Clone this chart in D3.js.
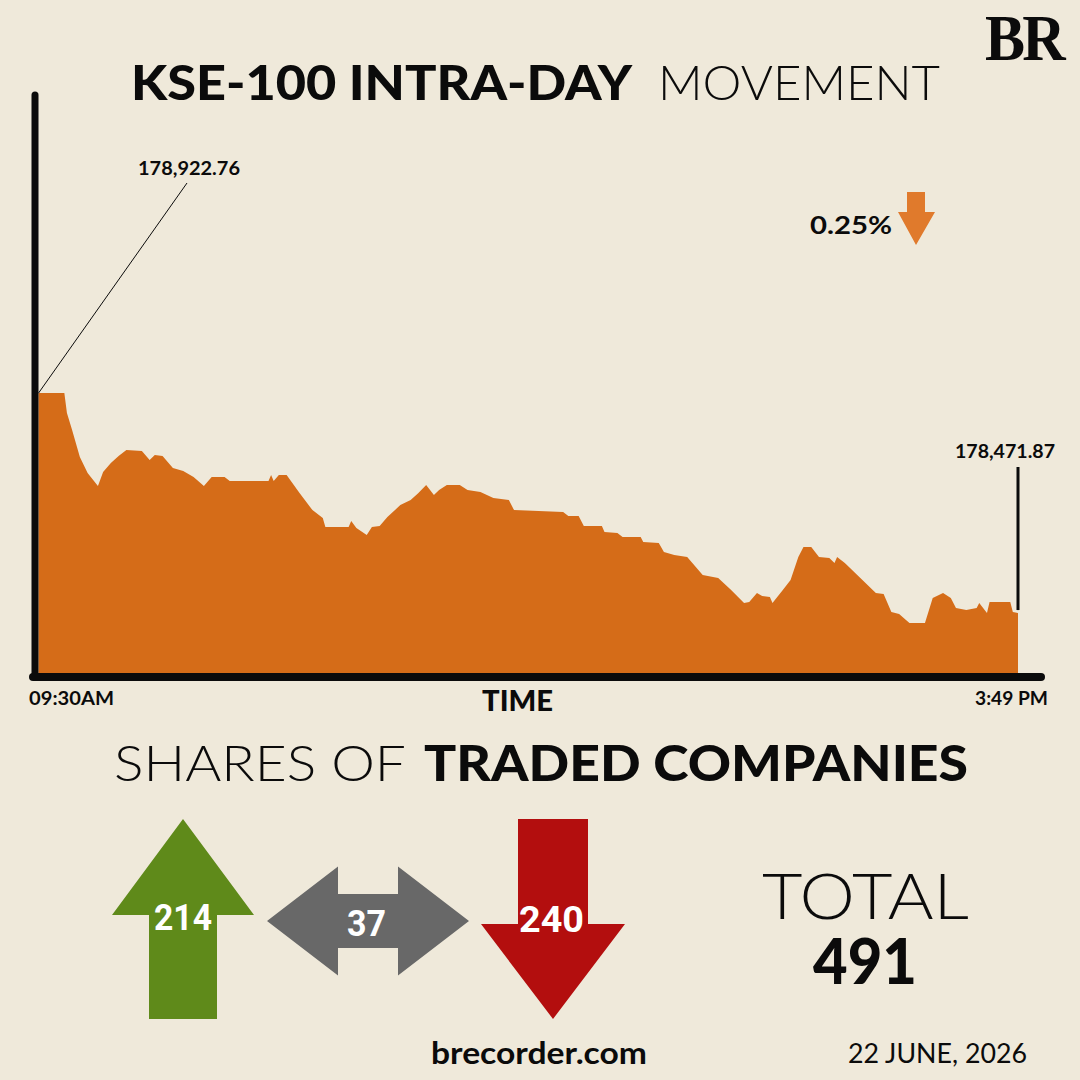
<!DOCTYPE html>
<html>
<head>
<meta charset="utf-8">
<script src="https://cdn.jsdelivr.net/npm/d3@7"></script>
<style>
  html, body { margin: 0; padding: 0; background: #EFE9DA; }
  svg { display: block; }
</style>
</head>
<body>
<div id="chart"></div>
<script>
// KSE-100 intraday readings (time, index level)
var times = ["09:30","09:40","09:41","09:43","09:46","09:49","09:53","09:55","09:58","10:01",
  "10:04","10:10","10:13","10:15","10:18","10:22","10:26","10:30","10:34","10:37",
  "10:42","10:44","10:59","11:00","11:01","11:03","11:06","11:11","11:16","11:20",
  "11:21","11:30","11:31","11:33","11:37","11:39","11:42","11:45","11:50","11:54",
  "11:57","12:00","12:03","12:05","12:08","12:13","12:16","12:21","12:26","12:32",
  "12:34","12:53","12:55","12:59","13:01","13:08","13:09","13:14","13:16","13:23",
  "13:24","13:30","13:32","13:36","13:41","13:47","13:53","13:58","14:03","14:05",
  "14:08","14:10","14:13","14:14","14:18","14:21","14:24","14:26","14:29","14:32",
  "14:36","14:38","14:39","14:42","14:48","14:54","14:57","15:00","15:03","15:07",
  "15:13","15:16","15:20","15:23","15:25","15:29","15:33","15:34","15:37","15:38",
  "15:46","15:47","15:49"];
var values = [178922.76,178922.8,178881.8,178846.9,178791.6,178758.8,178732.1,178760.8,178779.3,178793.6,
  178805.9,178803.9,178785.4,178795.7,178793.6,178769.0,178762.9,178750.6,178732.1,178750.6,
  178750.6,178742.4,178742.4,178754.7,178742.4,178754.7,178754.7,178717.8,178682.9,178666.5,
  178648.1,178648.1,178660.4,178646.0,178631.7,178648.1,178650.1,178668.6,178693.2,178703.4,
  178717.8,178734.2,178713.7,178723.9,178734.2,178734.2,178723.9,178719.8,178707.5,178703.4,
  178682.9,178678.8,178670.6,178670.6,178650.1,178650.1,178637.8,178635.8,178627.6,178627.6,
  178617.3,178615.3,178596.8,178590.7,178586.6,178549.7,178543.5,178518.9,178492.3,178494.3,
  178512.8,178506.6,178504.6,178492.3,178518.9,178539.4,178586.6,178607.1,178607.1,178586.6,
  178584.5,178574.3,178586.6,178574.3,178543.5,178512.8,178510.8,178473.8,178469.7,178451.3,
  178451.3,178502.5,178512.8,178502.5,178482.0,178478.0,178482.0,178492.3,178471.9,178494.3,
  178494.3,178473.8,178471.87];
var yDomain = [178349, 179540];
var openLabel = "178,922.76";
var closeLabel = "178,471.87";
var changeLabel = "0.25%";
var startLabel = "09:30AM", endLabel = "3:49 PM";

// market breadth
var breadthCounts = [214, 37, 240];
var breadthColors = ["#5F8A1A", "#686868", "#B30E0E"];
var totalCount = 491;
var dateLabel = "22 JUNE, 2026";

var W = 1080, H = 1080;
var colors = {
  bg: "#EFE9DA",
  area: "#D56C18",
  down: "#E07A2C",
  ink: "#0B0B0B"
};
var wideFont = "Lato, 'Open Sans', sans-serif";
var narrowFont = "Roboto, 'DejaVu Sans', sans-serif";

var svg = d3.select("#chart").append("svg")
  .attr("width", W).attr("height", H)
  .style("background", colors.bg);

// text squeezed or stretched to a fixed width
function fitText(parent, str, px, py, anchor, family, weight, size, width) {
  return parent.append("text")
    .attr("x", px).attr("y", py)
    .attr("text-anchor", anchor)
    .attr("font-family", family)
    .attr("font-weight", weight)
    .attr("font-size", size)
    .attr("textLength", width)
    .attr("lengthAdjust", "spacingAndGlyphs")
    .attr("fill", colors.ink)
    .text(str);
}

var parse = d3.timeParse("%H:%M");
var data = times.map(function (t, i) { return { t: parse(t), v: values[i] }; });

var x = d3.scaleTime()
  .domain(d3.extent(data, function (d) { return d.t; }))
  .range([38.5, 1018]);
var y = d3.scaleLinear().domain(yDomain).range([673, 92]);

// area
var area = d3.area()
  .x(function (d) { return x(d.t); })
  .y0(y(yDomain[0]))
  .y1(function (d) { return y(d.v); });
svg.append("path")
  .datum(data)
  .attr("d", area)
  .attr("fill", colors.area);

// axes lines
svg.append("line")
  .attr("x1", 35).attr("x2", 35)
  .attr("y1", 95).attr("y2", 677)
  .attr("stroke", colors.ink).attr("stroke-width", 7)
  .attr("stroke-linecap", "round");
svg.append("line")
  .attr("x1", 33).attr("x2", 1041)
  .attr("y1", 677).attr("y2", 677)
  .attr("stroke", colors.ink).attr("stroke-width", 8)
  .attr("stroke-linecap", "round");

// title
fitText(svg, "KSE-100 INTRA-DAY", 131, 100, "start", wideFont, 900, 48, 501);
fitText(svg, "MOVEMENT", 658, 100, "start", wideFont, 300, 48, 282);

// BR logo
fitText(svg, "BR", 985, 60, "start", "'Liberation Serif', 'DejaVu Serif', serif", 700, 66, 78)
  .attr("letter-spacing", -3);

// open annotation
var first = data[0], last = data[data.length - 1];
svg.append("line")
  .attr("x1", 187).attr("y1", 183)
  .attr("x2", x(first.t)).attr("y2", y(first.v))
  .attr("stroke", colors.ink).attr("stroke-width", 1);
fitText(svg, openLabel, 138, 175, "start", wideFont, 700, 18, 102);

// close annotation
svg.append("line")
  .attr("x1", x(last.t)).attr("x2", x(last.t))
  .attr("y1", 467).attr("y2", y(last.v) - 3)
  .attr("stroke", colors.ink).attr("stroke-width", 3);
fitText(svg, closeLabel, 955, 458, "start", wideFont, 700, 19, 100);

// change %
fitText(svg, changeLabel, 810, 234, "start", wideFont, 700, 25, 82);
svg.append("path")
  .attr("d", "M907,192 L925,192 L925,212 L935,212 L916,245 L898,212 L907,212 Z")
  .attr("fill", colors.down);

// x labels
fitText(svg, startLabel, 29, 705, "start", wideFont, 700, 18, 85);
fitText(svg, endLabel, 975, 705, "start", wideFont, 700, 18, 73);
fitText(svg, "TIME", 482, 711, "start", wideFont, 900, 28, 71);

// section heading
fitText(svg, "SHARES OF", 114, 781, "start", wideFont, 300, 50, 292);
fitText(svg, "TRADED COMPANIES", 424, 781, "start", wideFont, 900, 50, 544);

// breadth arrows
function upArrow(cx, top, bottom, headW, headH, shaftW) {
  return "M" + cx + "," + top +
    "L" + (cx + headW / 2) + "," + (top + headH) +
    "L" + (cx + shaftW / 2) + "," + (top + headH) +
    "L" + (cx + shaftW / 2) + "," + bottom +
    "L" + (cx - shaftW / 2) + "," + bottom +
    "L" + (cx - shaftW / 2) + "," + (top + headH) +
    "L" + (cx - headW / 2) + "," + (top + headH) + "Z";
}
function downArrow(cx, top, bottom, headW, headH, shaftW) {
  return "M" + (cx - shaftW / 2) + "," + top +
    "L" + (cx + shaftW / 2) + "," + top +
    "L" + (cx + shaftW / 2) + "," + (bottom - headH) +
    "L" + (cx + headW / 2) + "," + (bottom - headH) +
    "L" + cx + "," + bottom +
    "L" + (cx - headW / 2) + "," + (bottom - headH) +
    "L" + (cx - shaftW / 2) + "," + (bottom - headH) + "Z";
}
function doubleArrow(cx, cy, left, right, headW, headH, shaftH) {
  return "M" + left + "," + cy +
    "L" + (left + headW) + "," + (cy - headH / 2) +
    "L" + (left + headW) + "," + (cy - shaftH / 2) +
    "L" + (right - headW) + "," + (cy - shaftH / 2) +
    "L" + (right - headW) + "," + (cy - headH / 2) +
    "L" + right + "," + cy +
    "L" + (right - headW) + "," + (cy + headH / 2) +
    "L" + (right - headW) + "," + (cy + shaftH / 2) +
    "L" + (left + headW) + "," + (cy + shaftH / 2) +
    "L" + (left + headW) + "," + (cy + headH / 2) + "Z";
}

var arrows = [
  { d: upArrow(183, 819, 1019, 142, 96, 68), lx: 154, ly: 930, w: 58 },
  { d: doubleArrow(368, 921, 267, 469, 71, 109, 54), lx: 347, ly: 936, w: 39 },
  { d: downArrow(553, 819, 1019, 144, 95, 70), lx: 519, ly: 932, w: 65 }
];
var g = svg.append("g");
g.selectAll("path.arrow")
  .data(breadthCounts)
  .enter().append("path")
  .attr("class", "arrow")
  .attr("d", function (d, i) { return arrows[i].d; })
  .attr("fill", function (d, i) { return breadthColors[i]; });
g.selectAll("text.count")
  .data(breadthCounts)
  .enter().append("text")
  .attr("class", "count")
  .attr("x", function (d, i) { return arrows[i].lx; })
  .attr("y", function (d, i) { return arrows[i].ly; })
  .attr("font-family", narrowFont).attr("font-weight", 700)
  .attr("font-size", 37).attr("fill", "#fff")
  .attr("textLength", function (d, i) { return arrows[i].w; })
  .attr("lengthAdjust", "spacingAndGlyphs")
  .text(function (d) { return d; });

// total
fitText(svg, "TOTAL", 762, 919, "start", wideFont, 300, 64, 207);
fitText(svg, String(totalCount), 813, 984, "start", wideFont, 900, 63, 104);

// footer
fitText(svg, "brecorder.com", 431, 1064, "start", wideFont, 700, 31, 216);
fitText(svg, dateLabel, 848, 1063, "start", wideFont, 400, 26, 179);
</script>
</body>
</html>
